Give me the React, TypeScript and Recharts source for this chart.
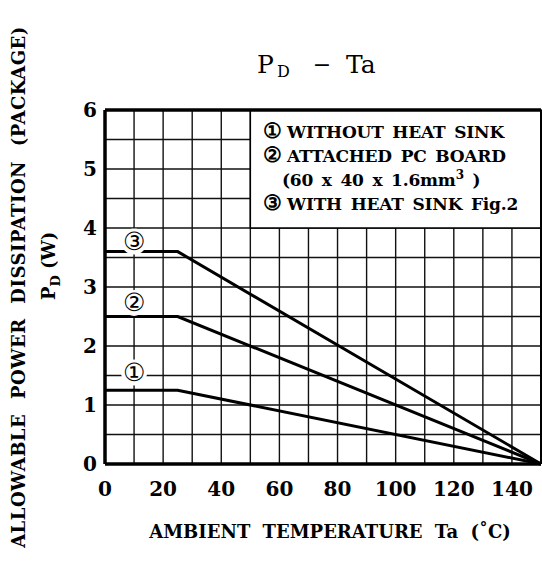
import {
  ComposedChart,
  Line,
  XAxis,
  YAxis,
  CartesianGrid,
  ReferenceArea,
  ReferenceLine,
  ReferenceDot,
} from "recharts";

// Ta (°C) break points shared by all three curves
const temps = [0, 25, 150];
// P_D (W) for each mounting condition
const withoutSink = [1.25, 1.25, 0];
const pcBoard = [2.5, 2.5, 0];
const withSink = [3.6, 3.6, 0];

const xTicks = [0, 10, 20, 30, 40, 50, 60, 70, 80, 90, 100, 110, 120, 130, 140, 150];
const yTicks = [0, 0.5, 1, 1.5, 2, 2.5, 3, 3.5, 4, 4.5, 5, 5.5, 6];

// curve tags placed on the chart
const tagX = [10, 10, 10];
const tagY = [1.55, 2.73, 3.77];
const tagText = ["①", "②", "③"];

const legendMarks = ["①", "②", "", "③"];
const legendLines = [
  "WITHOUT HEAT SINK",
  "ATTACHED PC BOARD",
  "(60 x 40 x 1.6mm",
  "WITH HEAT SINK Fig.2",
];

const data = temps.map((t, i) => ({
  ta: t,
  s1: withoutSink[i],
  s2: pcBoard[i],
  s3: withSink[i],
}));

const FONT = "'DejaVu Serif', 'Liberation Serif', serif";

const TagLabel = (props: any) => {
  const { viewBox, value } = props;
  const cx = viewBox.x + viewBox.width / 2;
  const cy = viewBox.y + viewBox.height / 2;
  return (
    <text x={cx} y={cy + 8} textAnchor="middle" fontFamily={FONT} fontSize={25} fill="#000">
      {value}
    </text>
  );
};

export default function App() {
  return (
    <div style={{ position: "absolute", left: 0, top: 0, width: 542, height: 565, background: "#fff" }}>
      <ComposedChart
        width={542}
        height={565}
        data={data}
        margin={{ top: 110, right: 1, bottom: 60, left: 55 }}
      >
        <CartesianGrid stroke="#111" strokeWidth={1.4} />
        <XAxis
          dataKey="ta"
          type="number"
          domain={[0, 150]}
          ticks={xTicks}
          tickFormatter={(v: number) => (v % 20 === 0 && v < 150 ? String(v) : "")}
          axisLine={{ stroke: "#000", strokeWidth: 3.5 }}
          tickLine={false}
          tickMargin={12}
          height={41}
          tick={{ fontFamily: FONT, fontSize: 20, fontWeight: "bold", fill: "#000" }}
        />
        <YAxis
          type="number"
          domain={[0, 6]}
          ticks={yTicks}
          tickFormatter={(v: number) => (Number.isInteger(v) ? String(v) : "")}
          axisLine={{ stroke: "#000", strokeWidth: 3.5 }}
          tickLine={false}
          width={50}
          tick={{ fontFamily: FONT, fontSize: 20, fontWeight: "bold", fill: "#000" }}
        />
        <ReferenceLine y={6} stroke="#000" strokeWidth={3.5} />
        <ReferenceLine x={150} stroke="#000" strokeWidth={2} />
        <ReferenceArea x1={50} x2={150} y1={4} y2={6} fill="#fff" fillOpacity={1} stroke="#000" strokeWidth={1.5} />
        {tagText.map((t, i) => (
          <ReferenceDot
            key={t}
            x={tagX[i]}
            y={tagY[i]}
            r={13}
            fill="#fff"
            stroke="none"
            label={<TagLabel value={t} />}
          />
        ))}
        <Line dataKey="s1" stroke="#000" strokeWidth={3} dot={false} isAnimationActive={false} />
        <Line dataKey="s2" stroke="#000" strokeWidth={3} dot={false} isAnimationActive={false} />
        <Line dataKey="s3" stroke="#000" strokeWidth={3} dot={false} isAnimationActive={false} />
      </ComposedChart>
      <svg
        width={542}
        height={565}
        style={{ position: "absolute", left: 0, top: 0, pointerEvents: "none" }}
      >
        {/* title */}
        <g fontFamily={FONT} fill="#000">
          <text x={257} y={73} fontSize={25}>P</text>
          <text x={277} y={77} fontSize={16}>D</text>
          <text x={322} y={72} fontSize={22} textAnchor="middle">−</text>
          <text x={346} y={73} fontSize={25}>Ta</text>
        </g>
        {/* legend inside the box */}
        <g fontFamily={FONT} fontWeight="bold" fill="#000">
          {legendMarks.map((m, i) =>
            m ? (
              <text key={i} x={272} y={138 + i * 24} fontSize={21} textAnchor="middle">
                {m}
              </text>
            ) : null
          )}
          <g fontSize={17} style={{ wordSpacing: 3, letterSpacing: -0.2 }}>
            <text x={287} y={138}>{legendLines[0]}</text>
            <text x={287} y={162}>{legendLines[1]}</text>
            <text x={282} y={186}>
              {legendLines[2]}
              <tspan fontSize={12} dy={-7}>3</tspan>
              <tspan dy={7}>{" )"}</tspan>
            </text>
            <text x={287} y={210}>{legendLines[3]}</text>
          </g>
        </g>
        <text
          x={330}
          y={538}
          textAnchor="middle"
          fontFamily={FONT}
          fontSize={18}
          fontWeight="bold"
          fill="#000"
          style={{ wordSpacing: 6 }}
        >
          AMBIENT TEMPERATURE Ta (˚C)
        </text>
        <text
          transform="translate(25, 287) rotate(-90)"
          textAnchor="middle"
          fontFamily={FONT}
          fontSize={18}
          fontWeight="bold"
          fill="#000"
          style={{ wordSpacing: 8, letterSpacing: 0.5 }}
        >
          ALLOWABLE POWER DISSIPATION (PACKAGE)
        </text>
        <text
          transform="translate(55, 300) rotate(-90)"
          fontFamily={FONT}
          fontSize={18}
          fontWeight="bold"
          fill="#000"
        >
          P<tspan fontSize={13} dy={5}>D</tspan>
          <tspan dy={-5}>{"  (W)"}</tspan>
        </text>
      </svg>
    </div>
  );
}
